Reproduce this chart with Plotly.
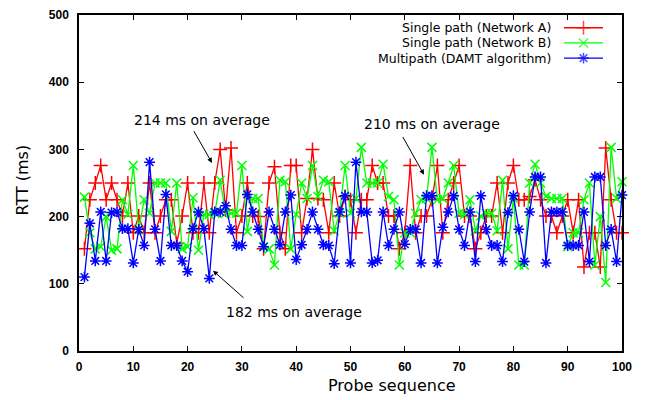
import plotly.graph_objects as go

# ---------------- data ----------------
probe = list(range(1, 101))

rtt_network_a = [
    152, 225, 250, 276, 225, 250, 225, 201, 250, 176,
    201, 176, 250, 176, 201, 225, 225, 160, 201, 250,
    176, 176, 250, 176, 250, 300, 210, 302, 176, 201,
    250, 201, 200, 152, 250, 274, 176, 152, 276, 276,
    176, 227, 300, 227, 225, 176, 250, 201, 230, 225,
    176, 225, 225, 276, 250, 250, 201, 201, 152, 176,
    276, 176, 201, 201, 225, 276, 176, 225, 250, 276,
    201, 201, 152, 176, 201, 201, 250, 176, 250, 276,
    225, 225, 230, 255, 225, 201, 201, 176, 201, 225,
    176, 225, 125, 176, 176, 125, 302, 225, 176, 176,
]

rtt_network_b = [
    229, 176, 152, 155, 200, 150, 152, 225, 203, 276,
    181, 225, 205, 250, 250, 250, 178, 250, 152, 155,
    228, 150, 203, 203, 205, 254, 205, 205, 205, 276,
    178, 227, 227, 155, 152, 128, 254, 252, 152, 203,
    250, 227, 276, 230, 254, 252, 179, 205, 276, 205,
    227, 303, 250, 250, 250, 278, 230, 225, 128, 176,
    176, 205, 225, 227, 303, 225, 227, 250, 276, 205,
    203, 225, 179, 201, 205, 205, 179, 254, 152, 227,
    128, 128, 250, 278, 250, 230, 227, 227, 227, 155,
    176, 176, 225, 250, 128, 200, 102, 303, 227, 252,
]

rtt_damt = [
    110, 190, 134, 207, 134, 206, 207, 182, 182, 131,
    181, 157, 281, 181, 134, 233, 157, 157, 134, 118,
    182, 207, 182, 108, 207, 207, 216, 181, 157, 157,
    233, 207, 181, 155, 207, 181, 158, 207, 232, 136,
    158, 181, 207, 181, 158, 157, 130, 207, 231, 131,
    281, 207, 207, 131, 135, 207, 157, 181, 207, 159,
    181, 181, 131, 231, 231, 131, 184, 207, 231, 181,
    157, 207, 133, 231, 181, 157, 157, 133, 206, 231,
    181, 133, 207, 259, 259, 131, 207, 207, 207, 157,
    157, 157, 207, 133, 259, 259, 157, 181, 133, 232,
]

series_names = ["Single path (Network A)", "Single path (Network B)",
                "Multipath (DAMT algorithm)"]
series_values = [rtt_network_a, rtt_network_b, rtt_damt]

x_ticks = [0, 10, 20, 30, 40, 50, 60, 70, 80, 90, 100]
y_ticks = [0, 100, 200, 300, 400, 500]

avg_labels = ["214 ms on average", "210 ms on average", "182 ms on average"]
x_title = "Probe sequence"
y_title = "RTT (ms)"

# ---------------- styles ----------------
colors = ["#ff0000", "#00ff00", "#0000ff"]
symbols = ["cross-thin-open", "x-thin-open", "asterisk-open"]
msizes = [10, 9, 9]

W, H = 646, 400
L, R, T, B = 79, 622, 8, 351   # plot area in pixels


def px(x):
    return (x - L) / (R - L)


def py(y):
    return (B - y) / (B - T)


fig = go.Figure()

for vals, name, c, s, ms in zip(series_values, series_names, colors, symbols, msizes):
    fig.add_trace(go.Scatter(
        x=probe, y=vals, mode="lines+markers", name=name,
        line=dict(color=c, width=1.3),
        marker=dict(symbol=s, size=ms, color=c, line=dict(color=c, width=1.5)),
        showlegend=False, cliponaxis=False,
    ))

# legend samples (pixel coordinate overlay axes)
leg_y = [21, 36.5, 52]
for k, (name, c, s, ms) in enumerate(zip(series_names, colors, symbols, msizes)):
    fig.add_trace(go.Scatter(
        x=[564, 583.5, 603], y=[leg_y[k]] * 3, xaxis="x2", yaxis="y2",
        mode="lines+markers", line=dict(color=c, width=1.3),
        marker=dict(symbol=s, size=[0, ms, 0], color=c, line=dict(color=c, width=1.5)),
        showlegend=False, hoverinfo="skip",
    ))

annotations = []
for k, name in enumerate(series_names):
    annotations.append(dict(
        x=px(553), y=py(leg_y[k]), xref="paper", yref="paper", text=name,
        showarrow=False, xanchor="right", yanchor="middle",
        font=dict(family="DejaVu Sans", size=12.5, color="black"),
    ))

# average labels and arrows (pixel coords)
text_pos = [(202, 115), (432, 119), (294, 311)]
arrows = [((212, 159), (193, 125)), ((424, 171), (402, 131)), ((213, 269), (245, 298))]
for lbl, (tx, ty), ((hx, hy), (tx0, ty0)) in zip(avg_labels, text_pos, arrows):
    annotations.append(dict(
        x=px(tx), y=py(ty), xref="paper", yref="paper", text=lbl, showarrow=False,
        xanchor="center", yanchor="middle",
        font=dict(family="DejaVu Sans", size=14, color="black"),
    ))
    annotations.append(dict(
        x=hx, y=hy, xref="x2", yref="y2", ax=tx0, ay=ty0, axref="x2", ayref="y2",
        text="", showarrow=True, arrowhead=2, arrowsize=1, arrowwidth=1,
        arrowcolor="black", standoff=0, startstandoff=0,
    ))

# axis titles
annotations.append(dict(
    x=px(23), y=py(177), xref="paper", yref="paper", text=y_title, showarrow=False,
    textangle=-90, xanchor="center", yanchor="middle",
    font=dict(family="DejaVu Sans", size=16, color="black"),
))
annotations.append(dict(
    x=px(392), y=py(386), xref="paper", yref="paper", text=x_title, showarrow=False,
    xanchor="center", yanchor="middle",
    font=dict(family="DejaVu Sans", size=16, color="black"),
))

tickfont = dict(family="Liberation Sans", size=12, color="black", weight="bold")

fig.update_layout(
    width=W, height=H,
    margin=dict(l=L, r=W - R, t=T, b=H - B, pad=0),
    paper_bgcolor="white", plot_bgcolor="white",
    showlegend=False,
    xaxis=dict(
        range=[0, 100], tickvals=x_ticks, ticks="inside", ticklen=5,
        tickcolor="black", tickwidth=1, showline=True, linecolor="black",
        linewidth=1.5, mirror="ticks", showgrid=False, zeroline=False,
        tickfont=tickfont, ticklabelstandoff=4,
    ),
    yaxis=dict(
        range=[0, 500], tickvals=y_ticks, ticks="inside", ticklen=5,
        tickcolor="black", tickwidth=1, showline=True, linecolor="black",
        linewidth=1.5, mirror="ticks", showgrid=False, zeroline=False,
        tickfont=tickfont, ticklabelstandoff=6,
    ),
    xaxis2=dict(range=[L, R], overlaying="x", visible=False, fixedrange=True),
    yaxis2=dict(range=[B, T], overlaying="y", visible=False, fixedrange=True),
    annotations=annotations,
)

fig.write_html("out.html")
